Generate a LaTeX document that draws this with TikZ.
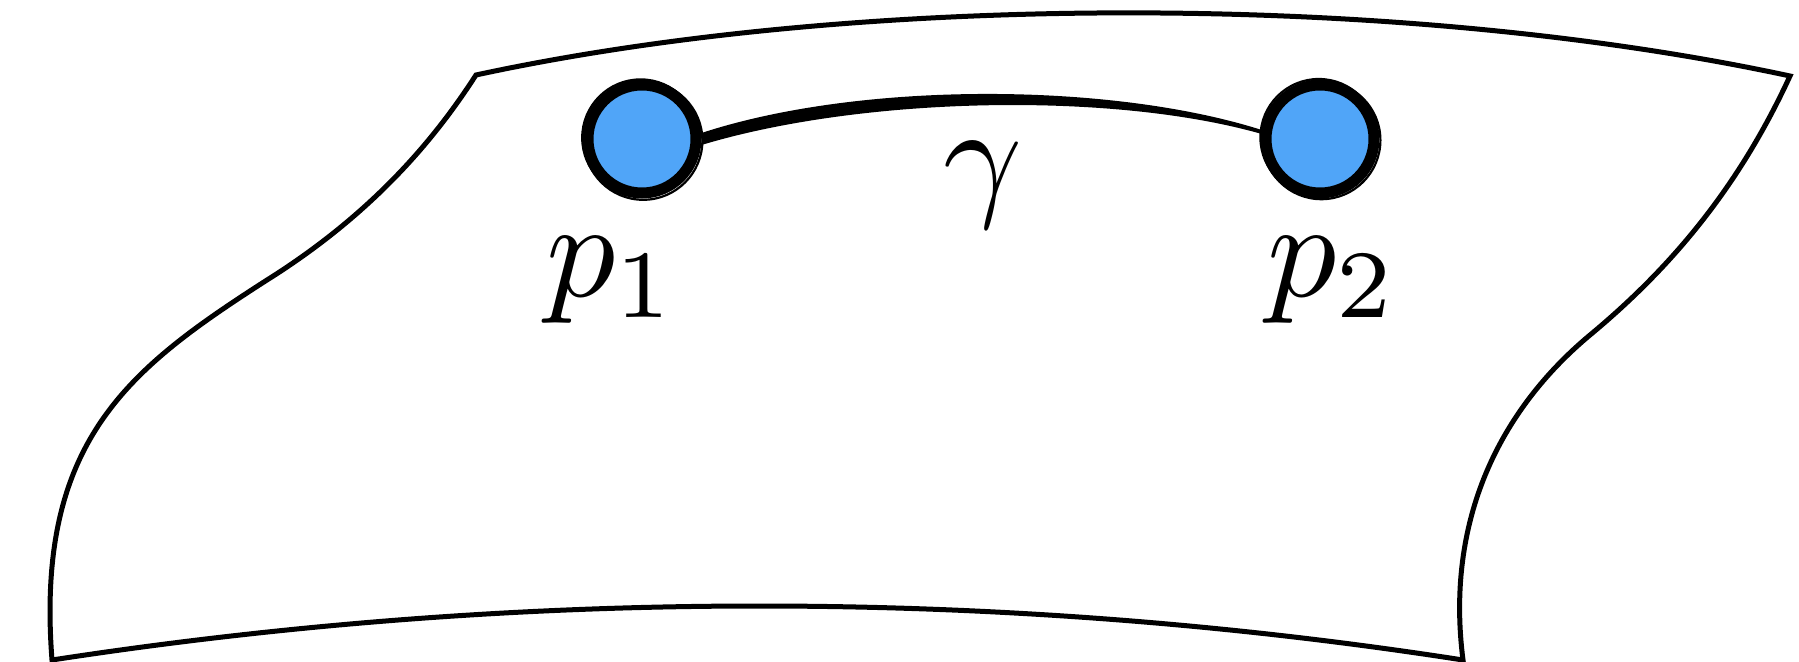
\documentclass[tikz,border=0pt]{standalone}
\usetikzlibrary{calc}
\definecolor{ptblue}{RGB}{80,165,248}
\begin{document}
\begin{tikzpicture}[x=0.5pt,y=-0.5pt,
  sheet/.style={draw=black,line width=2.5pt,line join=miter},
  pt/.style={circle,fill=ptblue,draw=black,line width=5.5pt,minimum size=54pt,inner sep=0pt},
  rough/.style={draw=black,line width=1.1pt},
  lab/.style={inner sep=0pt,scale=6.9,anchor=base},
  gam/.style={fill=black}]
\useasboundingbox (0,0) rectangle (1799,662);
% the sheet
\draw[sheet] (476,75) .. controls (860,-8) and (1400,-8) .. (1790,76)
  .. controls (1742,180) and (1678,262) .. (1590,335)
  .. controls (1500,410) and (1445,520) .. (1463,660)
  .. controls (1000,588) and (520,588) .. (52,660)
  .. controls (35,440) and (130,368) .. (267,280)
  .. controls (377,211) and (438,134) .. cycle;
% points
\node[pt] (p1) at (642,139) {};
\node[pt] (p2) at (1320,139) {};
% brush-like roughness of the rims
\draw[rough] ([shift={(0.6pt,-0.8pt)}]p1.center) circle (29.6pt);
\draw[rough] ([shift={(-0.7pt,0.6pt)}]p1.center) circle (29.2pt);
\draw[rough] ([shift={(0.7pt,-0.6pt)}]p2.center) circle (29.5pt);
\draw[rough] ([shift={(-0.6pt,0.8pt)}]p2.center) circle (29.2pt);
% the curve gamma
\fill[gam] ([yshift=3pt]p1.east) .. controls (860,81) and (1110,82) .. ([yshift=1pt]p2.173)
  -- ([yshift=-1pt]p2.173) .. controls (1110,91) and (860,97) .. ([yshift=-3pt]p1.east) -- cycle;
% labels
\node[lab] (l1) at (612,297) {$p_1$};
\node[lab] (l2) at (1333,297) {$p_2$};
\node[lab] (lg) at (983,202) {$\gamma$};
\end{tikzpicture}
\end{document}
